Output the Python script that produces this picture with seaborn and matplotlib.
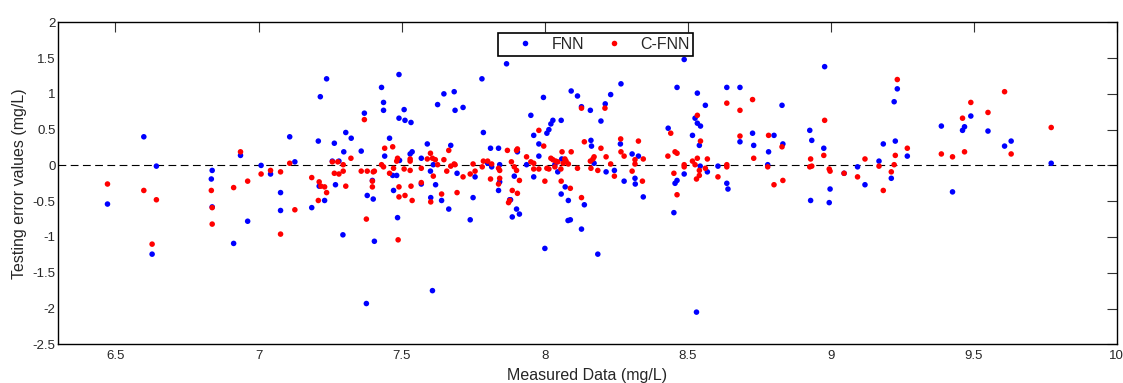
import numpy as np
import pandas as pd
import matplotlib
matplotlib.use('Agg')
import matplotlib.pyplot as plt
import seaborn as sns

# Valores
fnn_x = [6.599, 6.643, 6.472, 6.628, 6.838, 6.835, 6.838, 6.913, 6.962, 6.937, 7.009, 7.042, 7.077, 7.077,
         7.109, 7.127, 7.186, 7.209, 7.216, 7.238, 7.265, 7.258, 7.212, 7.231, 7.269,
         7.281, 7.298, 7.305, 7.324, 7.295, 7.359, 7.370, 7.380, 7.377, 7.401, 7.398, 7.405, 7.430, 7.437,
         7.437, 7.441, 7.458, 7.469, 7.472, 7.483, 7.486, 7.491, 7.491, 7.509, 7.512, 7.533, 7.530, 7.537,
         7.493, 7.569, 7.569, 7.590, 7.601, 7.602, 7.608, 7.619, 7.626, 7.640, 7.648, 7.665, 7.672, 7.684,
         7.687, 7.694, 7.715, 7.740, 7.611,
         7.750, 7.757, 7.781, 7.786, 7.801, 7.811, 7.815, 7.839, 7.843, 7.839, 7.843, 7.867, 7.878, 7.881,
         7.887, 7.894, 7.902, 7.912, 7.905, 7.937, 7.952, 7.962, 7.962, 7.980, 7.980, 7.996, 8.001, 8.008,
         8.015, 8.022, 8.029, 8.036, 8.046, 8.058, 8.060, 8.058, 8.072, 8.083, 8.082, 8.090, 8.093, 8.115,
         8.129, 8.129, 8.139, 8.160, 8.162, 8.164, 8.173, 8.186, 8.197, 8.212, 8.215,
         8.231, 8.267, 8.244, 8.265, 8.278, 8.306, 8.316, 8.317, 8.328, 8.345, 8.432, 8.463, 8.452, 8.456,
         8.463, 8.488, 8.488, 8.517, 8.526, 8.534, 8.534, 8.545, 8.541, 8.544, 8.562, 8.569, 8.606, 8.637,
         8.637, 8.641, 8.683, 8.683, 8.531,
         8.727, 8.731, 8.783, 8.780, 8.802, 8.830, 8.833, 8.927, 8.934, 8.930, 8.976, 8.979, 8.998, 8.995,
         9.047, 9.094, 9.120,
         9.169, 9.184, 9.212, 9.222, 9.226, 9.233, 9.268, 9.387, 9.426, 9.461, 9.468, 9.490, 9.550, 9.608,
         9.631, 9.771]
fnn_err = [0.40, -0.01, -0.54, -1.24, -0.07, -0.19, -0.58, -1.09, -0.78, 0.14, 0.00, -0.12, -0.38, -0.63,
           0.40, 0.05, -0.59, 0.34, 0.96, 1.21, 0.31, 0.06, -0.29, -0.49, -0.27,
           0.06, 0.19, 0.46, 0.38, -0.97, 0.20, 0.73, -0.42, -1.93, -0.47, -0.21, -1.06, 1.09, 0.88,
           0.77, 0.13, 0.38, -0.14, -0.35, -0.14, -0.73, 1.27, 0.66, 0.78, 0.63, 0.60, 0.16, 0.19,
           0.07, 0.10, -0.26, 0.30, -0.08, -0.45, -1.75, -0.27, 0.85, -0.49, 1.00, -0.61, 0.28, 1.03,
           0.77, -0.11, 0.81, -0.76, 0.01,
           -0.45, -0.16, 1.21, 0.46, 0.03, 0.24, -0.02, 0.24, 0.01, -0.35, -0.23, 1.42, -0.48, -0.48,
           -0.72, -0.15, -0.61, -0.68, 0.19, 0.01, 0.70, 0.42, -0.16, 0.30, 0.13, 0.95, -1.16, 0.45,
           0.50, 0.58, 0.63, 0.01, -0.09, 0.63, 0.09, -0.40, -0.30, -0.49, -0.77, -0.76, 1.04, 0.97,
           0.82, -0.89, -0.55, 0.77, 0.35, 0.27, 0.03, -1.24, 0.62, 0.86, -0.09,
           0.99, 1.14, -0.07, 0.30, -0.22, 0.16, -0.18, -0.26, 0.13, -0.44, 0.52, 1.09, -0.66, -0.25,
           -0.21, -0.12, 1.48, 0.42, 0.66, 1.01, 0.59, 0.55, 0.28, -0.01, 0.84, -0.09, -0.01, 1.09,
           -0.25, -0.33, 1.09, 0.33, -2.05,
           0.45, 0.28, 0.19, 0.01, 0.42, 0.84, 0.30, 0.49, 0.35, -0.49, 0.24, 1.38, -0.33, -0.52,
           -0.11, -0.02, -0.27,
           0.06, 0.30, -0.18, 0.89, 0.34, 1.07, 0.13, 0.55, -0.37, 0.49, 0.54, 0.69, 0.48, 0.27,
           0.34, 0.03]

cfnn_x = [6.472, 6.599, 6.643, 6.628, 6.835, 6.838, 6.838, 6.913, 6.962, 6.937, 7.009, 7.042, 7.077, 7.077,
          7.109, 7.127, 7.186, 7.212, 7.218, 7.231, 7.238, 7.209, 7.258, 7.265,
          7.277, 7.281, 7.296, 7.296, 7.305, 7.323, 7.359, 7.370, 7.377, 7.380, 7.398, 7.398, 7.401, 7.405,
          7.430, 7.437, 7.441, 7.458, 7.469, 7.472, 7.483, 7.486, 7.491, 7.491, 7.488, 7.509, 7.512, 7.530,
          7.530, 7.530, 7.533, 7.537, 7.569, 7.569, 7.590, 7.601, 7.608, 7.611, 7.618, 7.626, 7.640, 7.648,
          7.658, 7.665, 7.672, 7.684, 7.687, 7.694, 7.715, 7.740, 7.602,
          7.750, 7.757, 7.782, 7.786, 7.801, 7.811, 7.815, 7.839, 7.843, 7.843, 7.839, 7.870, 7.874, 7.878,
          7.884, 7.887, 7.894, 7.902, 7.902, 7.905, 7.905, 7.912, 7.937, 7.952, 7.962, 7.962, 7.980, 7.980,
          7.997, 8.001, 8.008, 8.015, 8.022, 8.029, 8.036, 8.039, 8.046, 8.057, 8.058, 8.061, 8.065, 8.071,
          8.075, 8.083, 8.090, 8.093, 8.115, 8.129, 8.129, 8.139, 8.160, 8.162, 8.169, 8.173, 8.186, 8.197,
          8.211, 8.215,
          8.231, 8.244, 8.266, 8.267, 8.278, 8.306, 8.316, 8.316, 8.328, 8.342, 8.345, 8.431, 8.441, 8.452,
          8.456, 8.463, 8.463, 8.488, 8.488, 8.517, 8.526, 8.534, 8.534, 8.541, 8.541, 8.545, 8.531, 8.562,
          8.569, 8.606, 8.637, 8.637, 8.637, 8.683, 8.683,
          8.727, 8.731, 8.783, 8.780, 8.802, 8.830, 8.833, 8.930, 8.927, 8.934, 8.976, 8.979, 8.995, 8.998,
          9.047, 9.094, 9.120,
          9.169, 9.184, 9.212, 9.222, 9.226, 9.233, 9.268, 9.387, 9.426, 9.461, 9.468, 9.490, 9.550, 9.608,
          9.631, 9.771]
cfnn_err = [-0.26, -0.35, -0.48, -1.10, -0.35, -0.59, -0.82, -0.31, -0.22, 0.19, -0.12, -0.07, -0.09, -0.96,
            0.03, -0.62, -0.17, -0.23, -0.29, -0.30, -0.38, -0.49, 0.05, -0.11,
            0.05, -0.12, 0.01, -0.08, -0.29, 0.10, -0.08, 0.64, -0.75, -0.08, -0.30, -0.22, -0.09, -0.08,
            0.01, -0.02, 0.24, -0.11, 0.26, -0.04, 0.06, 0.10, -0.44, -0.30, -1.04, -0.05, -0.42, 0.06,
            0.09, -0.07, -0.29, -0.49, -0.04, -0.24, 0.09, 0.17, 0.10, -0.15, 0.08, 0.01, -0.40, 0.08,
            -0.08, 0.21, -0.01, 0.02, 0.01, -0.38, -0.16, -0.12, -0.51,
            0.02, -0.08, -0.02, 0.06, 0.06, -0.19, 0.02, -0.04, -0.07, -0.18, -0.26, 0.21, -0.52, -0.49,
            0.05, -0.35, -0.02, 0.21, -0.07, 0.23, -0.39, -0.21, 0.12, 0.05, 0.03, -0.05, -0.05, 0.49,
            0.27, -0.22, -0.04, -0.05, 0.10, 0.08, -0.02, 0.06, 0.05, -0.05, -0.22, 0.19, 0.03, 0.09,
            0.06, 0.02, -0.32, 0.19, -0.04, -0.45, 0.80, 0.33, 0.06, -0.04, 0.09, 0.12, -0.07, 0.24,
            0.80, 0.12,
            0.02, -0.15, 0.37, 0.19, 0.13, -0.08, 0.08, 0.02, 0.34, -0.22, 0.09, 0.13, 0.45, -0.11,
            0.19, 0.17, -0.41, 0.01, -0.02, 0.06, 0.01, 0.10, 0.70, -0.07, -0.14, 0.34, -0.19, -0.04,
            0.09, -0.16, 0.01, -0.02, 0.87, 0.77, 0.41,
            0.92, 0.10, 0.42, -0.02, -0.27, 0.26, -0.21, 0.09, -0.02, -0.01, 0.14, 0.63, -0.05, -0.08,
            -0.11, -0.16, 0.09,
            -0.01, -0.35, -0.09, 0.01, 0.14, 1.20, 0.24, 0.16, 0.12, 0.66, 0.19, 0.88, 0.74, 1.03,
            0.16, 0.53]

x_ticks = [6.5, 7, 7.5, 8, 8.5, 9, 9.5, 10]
y_ticks = [-2.5, -2, -1.5, -1, -0.5, 0, 0.5, 1, 1.5, 2]

df = pd.concat([
    pd.DataFrame({'Measured': fnn_x, 'Erro': fnn_err, 'Modelo': 'FNN'}),
    pd.DataFrame({'Measured': cfnn_x, 'Erro': cfnn_err, 'Modelo': 'C-FNN'}),
], ignore_index=True)

sns.set_style('white')
plt.rcParams['font.family'] = ['Liberation Sans', 'DejaVu Sans']
plt.rcParams['axes.unicode_minus'] = False

fig = plt.figure(figsize=(11.23, 3.83), dpi=100)
ax = fig.add_axes([0.0519, 0.101, 0.9425, 0.8408])

ax.axhline(0, color='black', lw=0.8, ls=(0, (7, 4)), zorder=1)
sns.scatterplot(data=df, x='Measured', y='Erro', hue='Modelo',
                palette={'FNN': '#0000ff', 'C-FNN': '#ff0000'},
                s=16, linewidth=0, ax=ax, zorder=3)

ax.set_xlim(6.3, 10)
ax.set_ylim(-2.5, 2)
ax.set_xticks(x_ticks)
ax.set_yticks(y_ticks)
ax.set_xticklabels(['%g' % v for v in x_ticks])
ax.set_yticklabels(['%g' % v for v in y_ticks])
ax.tick_params(direction='in', length=7, width=0.8, color='#333333', labelsize=9.5,
               top=True, right=True, labeltop=False, labelright=False)
ax.tick_params(axis='y', pad=2)
ax.tick_params(axis='x', pad=4)
for sp in ax.spines.values():
    sp.set_color('black')
    sp.set_linewidth(1.0)

ax.set_xlabel('Measured Data (mg/L)', fontsize=11.5, labelpad=4.5)
ax.set_ylabel('Testing error values (mg/L)', fontsize=11.5, labelpad=4)

sns.move_legend(ax, 'upper left', bbox_to_anchor=(0.4154, 0.9668), borderaxespad=0,
                ncol=2, title=None, frameon=True, fancybox=False, fontsize=11.5,
                handlelength=2.9, handletextpad=0.2, columnspacing=0.4, borderpad=0.25)
leg = ax.get_legend()
leg.get_frame().set_edgecolor('black')
leg.get_frame().set_linewidth(1.2)
leg.get_frame().set_alpha(1)

fig.savefig('out.png', dpi=100)
